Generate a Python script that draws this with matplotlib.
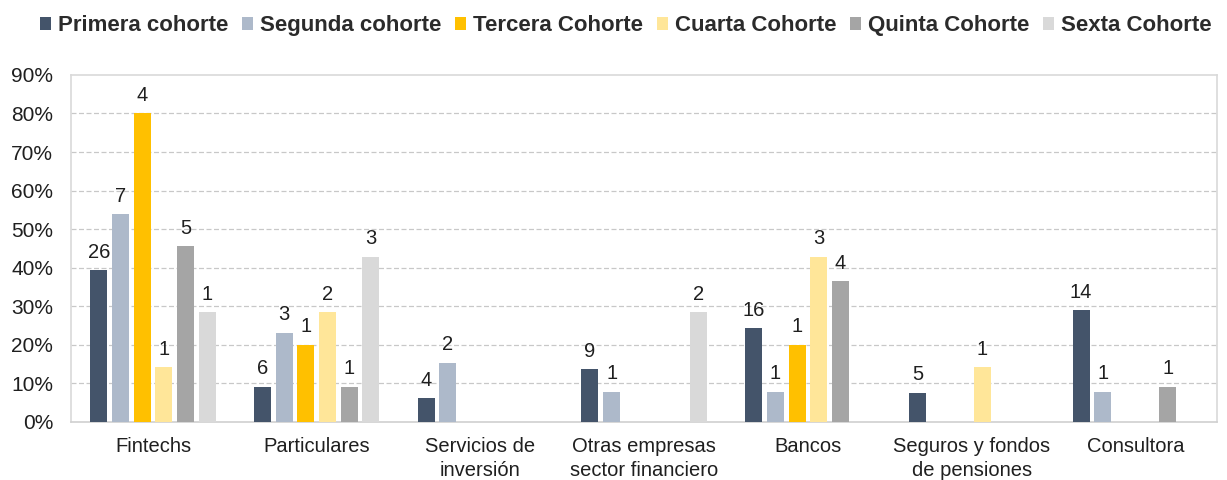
import numpy as np
import matplotlib
matplotlib.use("Agg")
import matplotlib.pyplot as plt
from matplotlib.patches import Patch

plt.rcParams['font.family'] = ['Liberation Sans', 'DejaVu Sans']

categories = ["Fintechs", "Particulares", "Servicios de\ninversión",
              "Otras empresas\nsector financiero", "Bancos",
              "Seguros y fondos\nde pensiones", "Consultora"]
series_names = ["Primera cohorte", "Segunda cohorte", "Tercera Cohorte",
                "Cuarta Cohorte", "Quinta Cohorte", "Sexta Cohorte"]
nan = np.nan
# percentages
primera = [39.4, 9.1, 6.2, 13.7, 24.3, 7.6, 28.9]
segunda = [53.8, 23.1, 15.3, 7.8, 7.8, nan, 7.8]
tercera = [80.0, 20.0, nan, nan, 20.0, nan, nan]
cuarta = [14.2, 28.5, nan, nan, 42.8, 14.2, nan]
quinta = [45.5, 9.1, nan, nan, 36.5, nan, 9.1]
sexta = [28.5, 42.8, nan, 28.5, nan, nan, nan]
# counts shown as labels
primera_n = [26, 6, 4, 9, 16, 5, 14]
segunda_n = [7, 3, 2, 1, 1, None, 1]
tercera_n = [4, 1, None, None, 1, None, None]
cuarta_n = [1, 2, None, None, 3, 1, None]
quinta_n = [5, 1, None, None, 4, None, 1]
sexta_n = [1, 3, None, 2, None, None, None]

colors = ["#44546A", "#ADB9CA", "#FFC000", "#FFE699", "#A5A5A5", "#D9D9D9"]

values = [primera, segunda, tercera, cuarta, quinta, sexta]
counts = [primera_n, segunda_n, tercera_n, cuarta_n, quinta_n, sexta_n]

fig = plt.figure(figsize=(12.27, 4.8), dpi=100)
ax = fig.add_axes([0.058, 0.121, 0.934, 0.723])

x = np.arange(len(categories))
pitch = 0.1325
width = 0.104
txtc = "#1F1F1F"
for i, (vals, cnts, col) in enumerate(zip(values, counts, colors)):
    pos = x + (i - 2.5) * pitch
    v = np.array(vals, dtype=float)
    ax.bar(pos, np.nan_to_num(v), width=width, color=col, zorder=3)
    for p, val, c in zip(pos, v, cnts):
        if c is not None and not np.isnan(val):
            ax.text(p, val + 2.2, str(c), ha='center', va='bottom',
                    fontsize=14.5, color=txtc)

ax.set_xlim(-0.5, len(categories) - 0.5)
ax.set_ylim(0, 90)
ax.set_yticks(np.arange(0, 91, 10))
ax.set_yticklabels([f"{t}%" for t in range(0, 91, 10)], fontsize=15, color=txtc)
ax.set_xticks(x)
ax.set_xticklabels(categories, fontsize=14.5, color=txtc, linespacing=1.35)
ax.tick_params(axis='both', length=0)
ax.tick_params(axis='y', pad=13)
ax.tick_params(axis='x', pad=11)
for t in range(10, 90, 10):
    ax.axhline(t, color="#C8C8C8", linestyle=(0, (4, 2)), linewidth=0.9, zorder=1)
for s in ax.spines.values():
    s.set_color("#D9D9D9")
    s.set_linewidth(1.2)
ax.spines['bottom'].set_color("#D0D0D0")

handles = [Patch(facecolor=c, edgecolor='none') for c in colors]
fig.legend(handles, series_names, loc='upper center', bbox_to_anchor=(0.51, 1.01),
           ncol=6, frameon=False, handlelength=0.5, handleheight=0.55,
           handletextpad=0.3, columnspacing=0.62,
           prop={'weight': 'bold', 'size': 16}, labelcolor="#2B2B2B")

fig.savefig("out.png", dpi=100)
